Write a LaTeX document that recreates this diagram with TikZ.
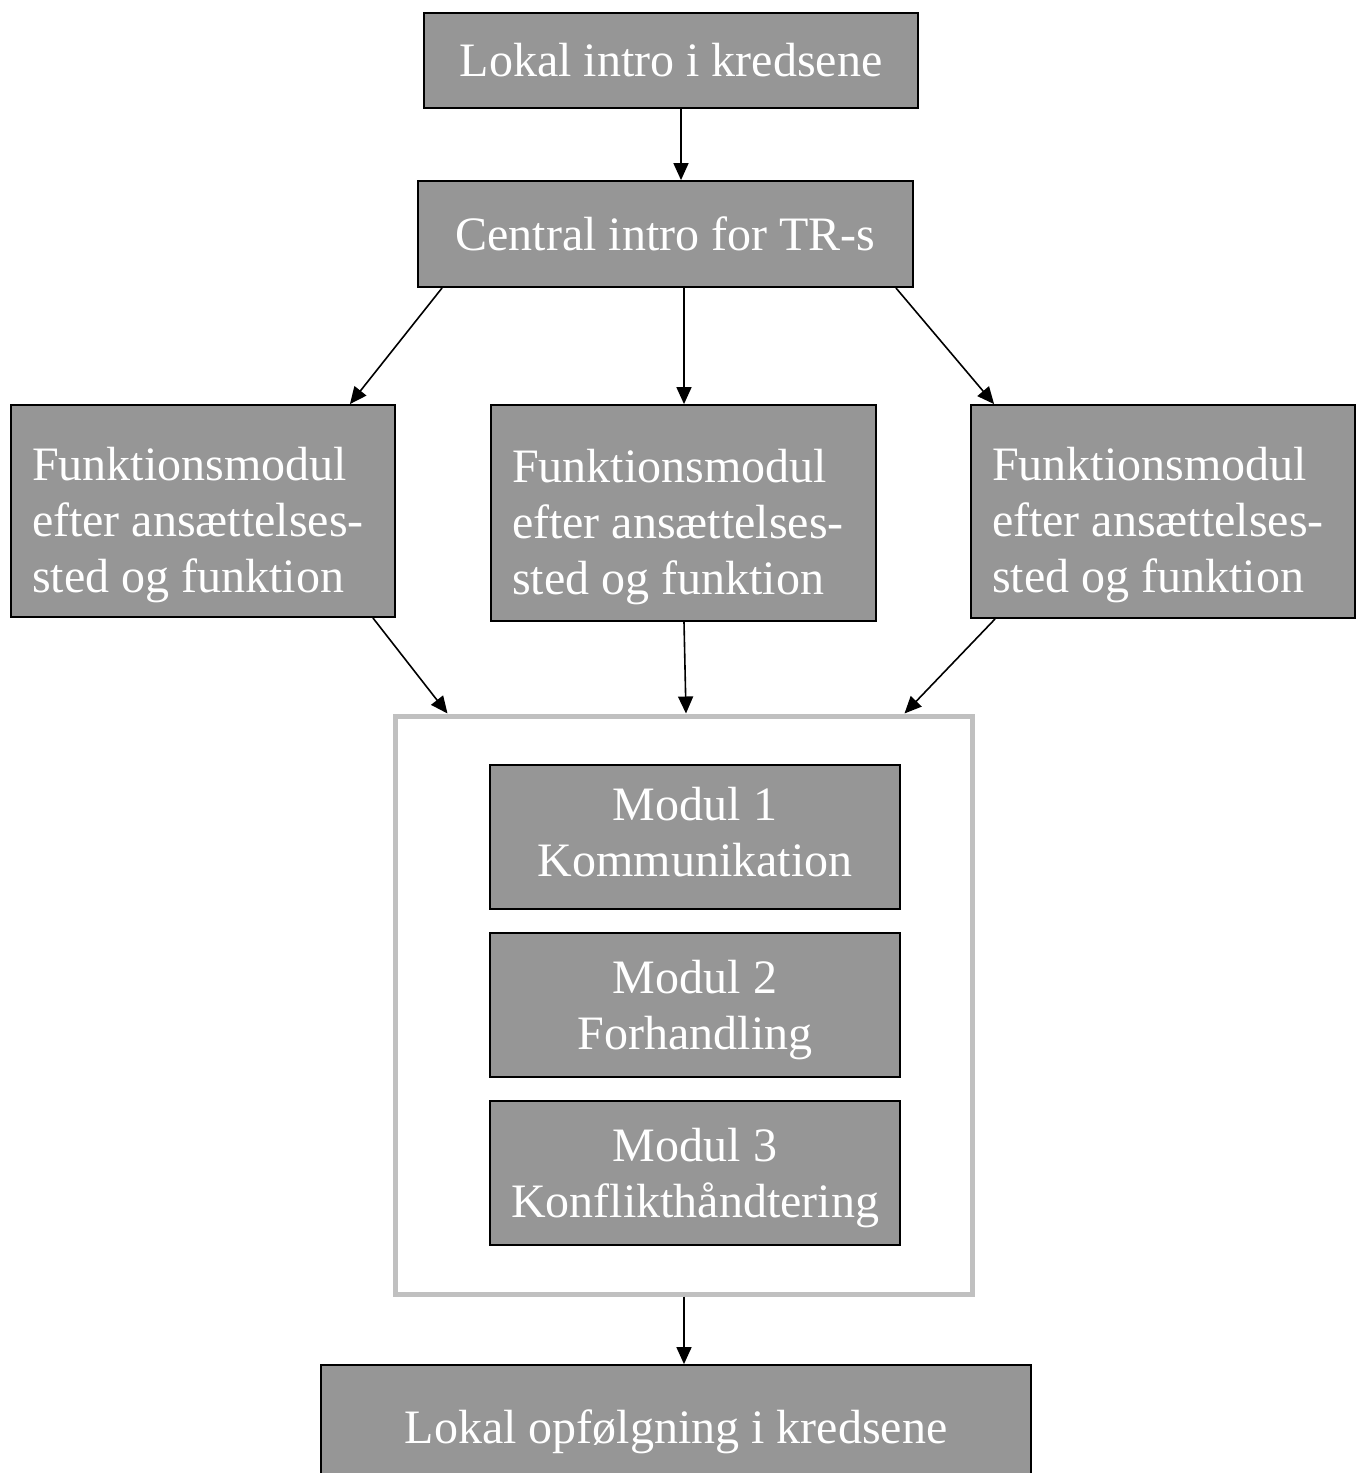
\documentclass[tikz,border=0pt]{standalone}
\usepackage{fontspec}
\setmainfont{Liberation Serif}
\usetikzlibrary{arrows.meta}
\definecolor{boxgray}{RGB}{150,150,150}
\definecolor{framegray}{RGB}{192,192,192}
\newcommand{\topstrut}[1]{\rule{0pt}{#1}}
\newcommand{\botstrut}[1]{\rule[-#1]{0pt}{#1}}
\begin{document}
\begin{tikzpicture}[x=1pt,y=-1pt,
  box/.style={draw=black,line width=1.8pt,fill=boxgray,text=white,inner sep=0pt,
    font=\fontsize{48}{56}\selectfont,align=center},
  fbox/.style={box,align=flush left,text width=#1,inner xsep=21pt},
  frame/.style={draw=framegray,line width=5pt,inner sep=0pt},
  arr/.style={line width=1.6pt,-{Triangle[length=17pt,width=15pt]}}]
\useasboundingbox (0,0) rectangle (1360,1473);
\clip (0,0) rectangle (1360,1473);
\fill[white] (0,0) rectangle (1360,1473);

\node[box,minimum width=494pt,minimum height=95pt] (top) at (671,60.5) {Lokal intro i kredsene};
\node[box,minimum width=495pt,minimum height=106pt] (cen) at (665.5,234) {Central intro for TR-s};

\node[fbox=342pt,minimum width=384pt,minimum height=212pt] (fl) at (203,511)
  {\topstrut{62pt}Funktionsmodul\\efter ansættelses-\\sted og funktion\botstrut{12pt}};
\node[fbox=343pt,minimum width=385pt,minimum height=216pt] (fm) at (683.5,513)
  {\topstrut{62pt}Funktionsmodul\\efter ansættelses-\\sted og funktion\botstrut{12pt}};
\node[fbox=342pt,minimum width=384pt,minimum height=213pt] (fr) at (1163,511.5)
  {\topstrut{62pt}Funktionsmodul\\efter ansættelses-\\sted og funktion\botstrut{12pt}};

\node[frame,minimum width=577pt,minimum height=578pt] (frm) at (683.5,1005) {};

\node[box,minimum width=410pt,minimum height=144pt] (m1) at (695,837)
  {\topstrut{36pt}Modul 1\\Kommunikation\botstrut{14pt}};
\node[box,minimum width=410pt,minimum height=144pt] (m2) at (695,1005)
  {\topstrut{44pt}Modul 2\\Forhandling\botstrut{12pt}};
\node[box,minimum width=410pt,minimum height=144pt] (m3) at (695,1173)
  {\topstrut{44pt}Modul 3\\Konflikthåndtering\botstrut{12pt}};

\node[box,minimum width=710pt,minimum height=134pt] (bot) at (676,1432) {Lokal opfølgning i kredsene};

\draw[arr] ([xshift=10pt]top.south) -- ([xshift=10pt]top.south |- cen.north);
\draw[arr] ([xshift=25pt]cen.south west) -- ([xshift=-46pt]fl.north east);
\draw[arr] ([xshift=18.5pt]cen.south) -- ([xshift=0.5pt]fm.north);
\draw[arr] ([xshift=-18pt]cen.south east) -- ([xshift=24pt]fr.north west);

\draw[arr] ([xshift=-23pt]fl.south east) -- ([xshift=55pt]frm.north west);
\draw[arr] ([xshift=0.5pt]fm.south) -- ([xshift=2.5pt]frm.north);
\draw[arr] ([xshift=25pt]fr.south west) -- ([xshift=-70pt]frm.north east);

\draw[arr] ([xshift=0.5pt]frm.south) -- ([xshift=0.5pt]frm.south |- bot.north);
\end{tikzpicture}
\end{document}
